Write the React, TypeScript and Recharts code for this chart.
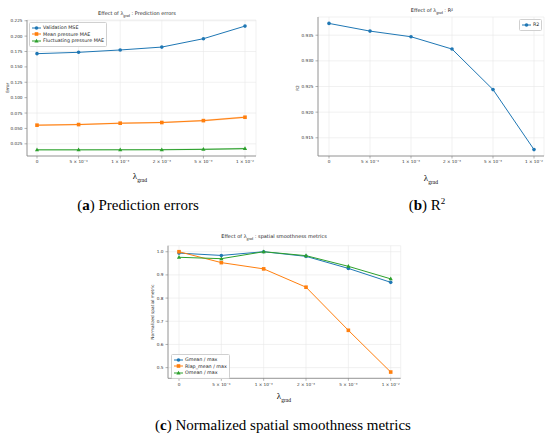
import React from 'react';
import { ComposedChart, LineChart, Line, Area, XAxis, YAxis, CartesianGrid } from 'recharts';

// lambda_grad values on the shared categorical x axis
const lambdas = ['0', '5 × 10⁻⁴', '1 × 10⁻³', '2 × 10⁻³', '5 × 10⁻³', '1 × 10⁻²'];

// (a) prediction errors
const validationMse = [0.1715, 0.1737, 0.1775, 0.1822, 0.1958, 0.2163];
const meanPressureMae = [0.0553, 0.0563, 0.0585, 0.0596, 0.0627, 0.0682];
const meanPressureStd = [0.0012, 0.0012, 0.0013, 0.0013, 0.0015, 0.0017];
const fluctPressureMae = [0.0152, 0.0152, 0.0153, 0.0154, 0.016, 0.0172];
const fluctPressureStd = [0.0008, 0.0008, 0.0009, 0.001, 0.0012, 0.0015];
const errorTicks = [0.025, 0.05, 0.075, 0.1, 0.125, 0.15, 0.175, 0.2, 0.225];

// (b) R2
const r2 = [0.9373, 0.9358, 0.9347, 0.9323, 0.9244, 0.9127];
const r2Ticks = [0.915, 0.92, 0.925, 0.93, 0.935];

// (c) spatial smoothness
const gmean = [0.994, 0.984, 1.0, 0.98, 0.928, 0.868];
const rlapMean = [1.0, 0.953, 0.926, 0.847, 0.661, 0.481];
const omean = [0.976, 0.97, 1.0, 0.983, 0.937, 0.883];
const smoothTicks = [0.5, 0.6, 0.7, 0.8, 0.9, 1.0];

const BLUE = '#1f77b4';
const ORANGE = '#ff7f0e';
const GREEN = '#2ca02c';
const FONT = "'DejaVu Sans', sans-serif";
const SERIF = "'Liberation Serif', 'DejaVu Serif', serif";
const AXIS = '#808080';
const GRID = '#e8e8e8';

const errorData = lambdas.map((l, i) => ({
  lambda: l,
  mse: validationMse[i],
  mean: meanPressureMae[i],
  fluct: fluctPressureMae[i],
  meanBand: [meanPressureMae[i] - meanPressureStd[i], meanPressureMae[i] + meanPressureStd[i]],
  fluctBand: [fluctPressureMae[i] - fluctPressureStd[i], fluctPressureMae[i] + fluctPressureStd[i]],
}));
const r2Data = lambdas.map((l, i) => ({ lambda: l, r2: r2[i] }));
const smoothData = lambdas.map((l, i) => ({ lambda: l, g: gmean[i], r: rlapMean[i], o: omean[i] }));

type Shape = 'circle' | 'square' | 'triangle';

function marker(shape: Shape, cx: number, cy: number, color: string, key?: string) {
  if (shape === 'square') return <rect key={key} x={cx - 1.8} y={cy - 1.8} width={3.6} height={3.6} fill={color} />;
  if (shape === 'triangle')
    return <path key={key} d={`M${cx},${cy - 2.3}L${cx - 2.1},${cy + 1.5}L${cx + 2.1},${cy + 1.5}Z`} fill={color} />;
  return <circle key={key} cx={cx} cy={cy} r={1.8} fill={color} />;
}

const dotOf = (shape: Shape, color: string) => (p: any) => marker(shape, p.cx, p.cy, color, `d-${p.index}`);

const tickStyle = { fontSize: 4.2, fill: '#333', fontFamily: FONT };

function Txt({ x, y, rotate, style, children }: any) {
  return (
    <div
      style={{
        position: 'absolute',
        left: x,
        top: y,
        transform: `translate(-50%, -50%)${rotate ? ' rotate(-90deg)' : ''}`,
        whiteSpace: 'nowrap',
        lineHeight: 1,
        ...style,
      }}
    >
      {children}
    </div>
  );
}

function Lambda({ size }: { size: number }) {
  return (
    <span style={{ fontFamily: SERIF, fontSize: size }}>
      λ<span style={{ fontSize: size * 0.62, position: 'relative', top: size * 0.3 }}>grad</span>
    </span>
  );
}

function Title({ x, y, text }: { x: number; y: number; text: string }) {
  return (
    <Txt x={x} y={y} style={{ fontFamily: FONT, fontSize: 5, color: '#222' }}>
      Effect of <Lambda size={6} /> : {text}
    </Txt>
  );
}

function LegendBox({ left, top, items }: { left: number; top: number; items: { label: string; color: string; shape: Shape }[] }) {
  return (
    <div
      style={{
        position: 'absolute',
        left,
        top,
        background: 'rgba(255,255,255,0.85)',
        border: '0.6px solid #d0d0d0',
        borderRadius: 1.5,
        padding: '1.5px 2px',
        fontFamily: FONT,
        fontSize: 4.8,
        color: '#222',
      }}
    >
      {items.map((it) => (
        <div key={it.label} style={{ display: 'flex', alignItems: 'center', height: 6.5 }}>
          <svg width={9} height={6}>
            <line x1={0} y1={3} x2={9} y2={3} stroke={it.color} strokeWidth={1} />
            {marker(it.shape, 4.5, 3, it.color)}
          </svg>
          <span style={{ marginLeft: 2 }}>{it.label}</span>
        </div>
      ))}
    </div>
  );
}

function frameAxes(pad: { left: number; right: number }) {
  return [
    <XAxis key="xt" xAxisId="top" orientation="top" dataKey="lambda" height={0} tick={false} tickLine={false} axisLine={{ stroke: AXIS, strokeWidth: 0.8 }} padding={pad} />,
    <YAxis key="yr" yAxisId="right" orientation="right" width={0} tick={false} tickLine={false} axisLine={{ stroke: AXIS, strokeWidth: 0.8 }} />,
  ];
}

function xAxisOf(pad: { left: number; right: number }, height: number) {
  return (
    <XAxis
      dataKey="lambda"
      interval={0}
      tick={tickStyle}
      tickSize={2.5}
      tickLine={{ stroke: AXIS, strokeWidth: 0.6 }}
      axisLine={{ stroke: AXIS, strokeWidth: 0.8 }}
      padding={pad}
      height={height}
    />
  );
}

function yAxisOf(domain: number[], ticks: number[], digits: number, width: number) {
  return (
    <YAxis
      type="number"
      domain={domain}
      ticks={ticks}
      allowDataOverflow
      tickFormatter={(v: number) => v.toFixed(digits)}
      tick={tickStyle}
      tickSize={2.5}
      tickLine={{ stroke: AXIS, strokeWidth: 0.6 }}
      axisLine={{ stroke: AXIS, strokeWidth: 0.8 }}
      width={width}
    />
  );
}

export default function App() {
  const padA = { left: 10, right: 11 };
  const padB = { left: 11, right: 10 };
  const padC = { left: 11, right: 10 };
  return (
    <div style={{ position: 'absolute', left: 0, top: 0, width: 550, height: 439, background: '#fff', overflow: 'hidden' }}>
      {/* (a) */}
      <div style={{ position: 'absolute', left: 0, top: 0 }}>
        <ComposedChart width={270} height={185} data={errorData} margin={{ top: 20, right: 14, bottom: 9, left: 0 }}>
          <CartesianGrid stroke={GRID} strokeWidth={0.6} />
          {xAxisOf(padA, 20)}
          {yAxisOf([0.0052, 0.2262], errorTicks, 3, 27)}
          {frameAxes(padA)}
          <Area dataKey="meanBand" stroke="none" fill={ORANGE} fillOpacity={0.3} isAnimationActive={false} />
          <Area dataKey="fluctBand" stroke="none" fill={GREEN} fillOpacity={0.3} isAnimationActive={false} />
          <Line dataKey="mse" stroke={BLUE} strokeWidth={1} dot={dotOf('circle', BLUE)} isAnimationActive={false} />
          <Line dataKey="mean" stroke={ORANGE} strokeWidth={1} dot={dotOf('square', ORANGE)} isAnimationActive={false} />
          <Line dataKey="fluct" stroke={GREEN} strokeWidth={1} dot={dotOf('triangle', GREEN)} isAnimationActive={false} />
        </ComposedChart>
      </div>
      <Title x={137} y={13} text="Prediction errors" />
      <Txt x={8} y={88} rotate style={{ fontFamily: FONT, fontSize: 4.2, color: '#222' }}>Error</Txt>
      <Txt x={140} y={174}><Lambda size={9} /></Txt>
      <LegendBox
        left={29}
        top={22}
        items={[
          { label: 'Validation MSE', color: BLUE, shape: 'circle' },
          { label: 'Mean pressure MAE', color: ORANGE, shape: 'square' },
          { label: 'Fluctuating pressure MAE', color: GREEN, shape: 'triangle' },
        ]}
      />
      <Txt x={138} y={205} style={{ fontFamily: SERIF, fontSize: 15, color: '#000' }}>
        (<b>a</b>) Prediction errors
      </Txt>

      {/* (b) */}
      <div style={{ position: 'absolute', left: 280, top: 0 }}>
        <LineChart width={270} height={185} data={r2Data} margin={{ top: 17, right: 6, bottom: 9, left: 0 }}>
          <CartesianGrid stroke={GRID} strokeWidth={0.6} />
          {xAxisOf(padB, 20)}
          {yAxisOf([0.91145, 0.93855], r2Ticks, 3, 38)}
          {frameAxes(padB)}
          <Line dataKey="r2" stroke={BLUE} strokeWidth={1} dot={dotOf('circle', BLUE)} isAnimationActive={false} />
        </LineChart>
      </div>
      <Title x={432} y={10} text="R²" />
      <Txt x={298} y={88} rotate style={{ fontFamily: FONT, fontSize: 4.2, color: '#222' }}>R2</Txt>
      <Txt x={431} y={176}><Lambda size={9} /></Txt>
      <LegendBox left={519} top={19} items={[{ label: 'R2', color: BLUE, shape: 'circle' }]} />
      <Txt x={427} y={205} style={{ fontFamily: SERIF, fontSize: 15, color: '#000' }}>
        (<b>b</b>) R<sup style={{ fontSize: 9 }}>2</sup>
      </Txt>

      {/* (c) */}
      <div style={{ position: 'absolute', left: 120, top: 225 }}>
        <LineChart width={290} height={175} data={smoothData} margin={{ top: 20.7, right: 9.3, bottom: 6.7, left: 0 }}>
          <CartesianGrid stroke={GRID} strokeWidth={0.6} />
          {xAxisOf(padC, 15)}
          {yAxisOf([0.454, 1.026], smoothTicks, 1, 48)}
          {frameAxes(padC)}
          <Line dataKey="g" stroke={BLUE} strokeWidth={1} dot={dotOf('circle', BLUE)} isAnimationActive={false} />
          <Line dataKey="r" stroke={ORANGE} strokeWidth={1} dot={dotOf('square', ORANGE)} isAnimationActive={false} />
          <Line dataKey="o" stroke={GREEN} strokeWidth={1} dot={dotOf('triangle', GREEN)} isAnimationActive={false} />
        </LineChart>
      </div>
      <Title x={274} y={236} text="spatial smoothness metrics" />
      <Txt x={153} y={312} rotate style={{ fontFamily: FONT, fontSize: 4.3, color: '#222' }}>Normalized spatial metric</Txt>
      <Txt x={284} y={394}><Lambda size={9} /></Txt>
      <LegendBox
        left={171}
        top={354}
        items={[
          { label: 'Gmean / max', color: BLUE, shape: 'circle' },
          { label: 'Rlap_mean / max', color: ORANGE, shape: 'square' },
          { label: 'Omean / max', color: GREEN, shape: 'triangle' },
        ]}
      />
      <Txt x={283} y={425} style={{ fontFamily: SERIF, fontSize: 15, color: '#000' }}>
        (<b>c</b>) Normalized spatial smoothness metrics
      </Txt>
    </div>
  );
}
